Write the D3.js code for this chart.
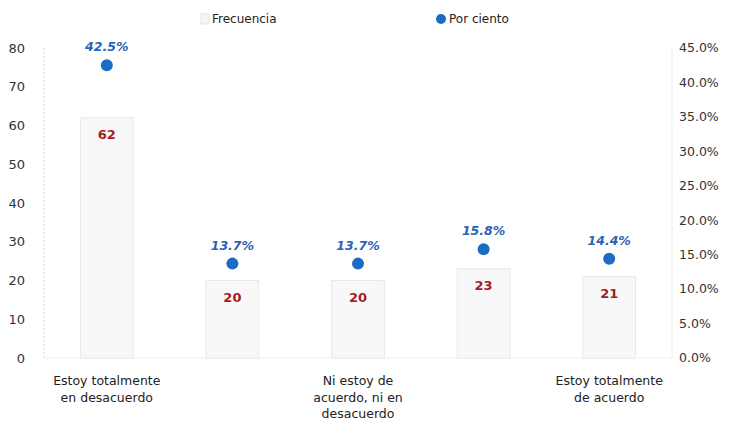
<!DOCTYPE html>
<html>
<head>
<meta charset="utf-8">
<script src="https://cdn.jsdelivr.net/npm/d3@7"></script>
<style>
  body { margin: 0; background: #fff; }
  svg { font-family: "DejaVu Sans", sans-serif; }
</style>
</head>
<body>
<div id="chart"></div>
<script>
// categories (2nd and 4th have no visible tick label in the picture)
var categories = ["c1", "c2", "c3", "c4", "c5"];
var tickLabels = [
  ["Estoy totalmente", "en desacuerdo"],
  [],
  ["Ni estoy de", "acuerdo, ni en", "desacuerdo"],
  [],
  ["Estoy totalmente", "de acuerdo"]
];
var frecuencia = [62, 20, 20, 23, 21];
var porCiento  = [42.5, 13.7, 13.7, 15.8, 14.4];
var leftTicks  = [0, 10, 20, 30, 40, 50, 60, 70, 80];
var rightTicks = [0, 5, 10, 15, 20, 25, 30, 35, 40, 45];

var chartWidth = 736, chartHeight = 421;
var margin = {top: 48, right: 64, bottom: 63, left: 44},
    width  = chartWidth - margin.left - margin.right,
    height = chartHeight - margin.top - margin.bottom;

var svg = d3.select("#chart").append("svg")
    .attr("width", chartWidth)
    .attr("height", chartHeight);

var g = svg.append("g")
    .attr("transform", "translate(" + margin.left + "," + margin.top + ")");

var x = d3.scaleBand()
    .domain(categories)
    .range([0, width])
    .paddingInner(0.58)
    .paddingOuter(0.29);

var yL = d3.scaleLinear().domain([0, 80]).range([height, 0]);
var yR = d3.scaleLinear().domain([0, 45]).range([height, 0]);

//faint axis lines
g.append("line")
    .attr("x1", 0).attr("x2", 0).attr("y1", 0).attr("y2", height)
    .attr("stroke", "#c9dcee").attr("stroke-dasharray", "2,2");
g.append("line")
    .attr("x1", width).attr("x2", width).attr("y1", 0).attr("y2", height)
    .attr("stroke", "#eeeeee");
g.append("line")
    .attr("x1", 0).attr("x2", width).attr("y1", height).attr("y2", height)
    .attr("stroke", "#f0f0f0");

//left axis ticks
g.append("g").selectAll("text")
    .data(leftTicks)
  .enter().append("text")
    .attr("x", -19)
    .attr("y", function(d) { return yL(d); })
    .attr("dy", "0.35em")
    .attr("text-anchor", "end")
    .attr("font-size", 13)
    .attr("fill", "#333")
    .text(function(d) { return d; });

//right axis ticks
g.append("g").selectAll("text")
    .data(rightTicks)
  .enter().append("text")
    .attr("x", width + 7)
    .attr("y", function(d) { return yR(d); })
    .attr("dy", "0.35em")
    .attr("text-anchor", "start")
    .attr("font-size", 12.5)
    .attr("fill", "#333")
    .text(function(d) { return d.toFixed(1) + "%"; });

//bars
var data = categories.map(function(c, i) {
  return {cat: c, f: frecuencia[i], p: porCiento[i], label: tickLabels[i]};
});

g.selectAll(".bar")
    .data(data)
  .enter().append("rect")
    .attr("class", "bar")
    .attr("x", function(d) { return x(d.cat); })
    .attr("y", function(d) { return yL(d.f); })
    .attr("width", x.bandwidth())
    .attr("height", function(d) { return height - yL(d.f); })
    .attr("fill", "#f8f8f8")
    .attr("stroke", "#ebe8e0")
    .attr("stroke-width", 1);

g.selectAll(".bar-label")
    .data(data)
  .enter().append("text")
    .attr("class", "bar-label")
    .attr("x", function(d) { return x(d.cat) + x.bandwidth() / 2; })
    .attr("y", function(d) { return yL(d.f) + 21; })
    .attr("text-anchor", "middle")
    .attr("font-size", 13)
    .attr("font-weight", "bold")
    .attr("fill", "#a31f24")
    .text(function(d) { return d.f; });

//points
g.selectAll(".dot")
    .data(data)
  .enter().append("circle")
    .attr("class", "dot")
    .attr("cx", function(d) { return x(d.cat) + x.bandwidth() / 2; })
    .attr("cy", function(d) { return yR(d.p); })
    .attr("r", 6)
    .attr("fill", "#1a6cc4");

g.selectAll(".dot-label")
    .data(data)
  .enter().append("text")
    .attr("class", "dot-label")
    .attr("x", function(d) { return x(d.cat) + x.bandwidth() / 2; })
    .attr("y", function(d) { return yR(d.p) - 14; })
    .attr("text-anchor", "middle")
    .attr("font-size", 12.5)
    .attr("font-weight", "bold")
    .attr("font-style", "italic")
    .attr("fill", "#2b63b5")
    .text(function(d) { return d.p.toFixed(1) + "%"; });

//category labels
var catLabels = g.selectAll(".cat-label")
    .data(data)
  .enter().append("text")
    .attr("class", "cat-label")
    .attr("text-anchor", "middle")
    .attr("font-size", 12.5)
    .attr("fill", "#222")
    .attr("transform", function(d) {
      return "translate(" + (x(d.cat) + x.bandwidth() / 2) + "," + (height + 27) + ")";
    });

catLabels.selectAll("tspan")
    .data(function(d) { return d.label; })
  .enter().append("tspan")
    .attr("x", 0)
    .attr("y", function(d, i) { return i * 16.5; })
    .text(function(d) { return d; });

//legend
var legend = svg.append("g");
legend.append("rect")
    .attr("x", 201).attr("y", 14).attr("width", 8).attr("height", 10)
    .attr("fill", "#f6f6f6").attr("stroke", "#e6e6e6");
legend.append("text")
    .attr("x", 212).attr("y", 23)
    .attr("font-size", 12).attr("fill", "#222")
    .text("Frecuencia");
legend.append("circle")
    .attr("cx", 441).attr("cy", 19).attr("r", 5)
    .attr("fill", "#1a6cc4");
legend.append("text")
    .attr("x", 449).attr("y", 23)
    .attr("font-size", 12).attr("fill", "#222")
    .text("Por ciento");
</script>
</body>
</html>
